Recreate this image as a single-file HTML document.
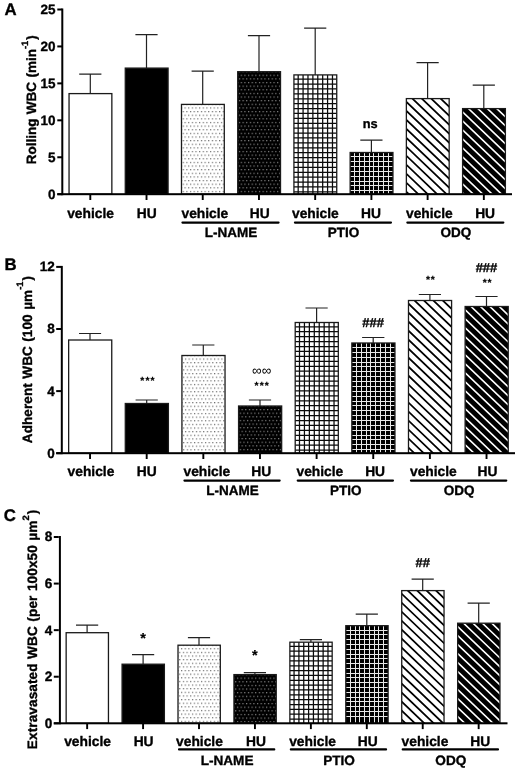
<!DOCTYPE html>
<html><head><meta charset="utf-8"><title>figure</title>
<style>
html,body{margin:0;padding:0;background:#fff;}
body{width:520px;height:768px;overflow:hidden;}
svg{display:block;will-change:transform;-webkit-font-smoothing:antialiased;text-rendering:geometricPrecision;font-family:"Liberation Sans",sans-serif;font-weight:bold;fill:#000;}
text{stroke:#000;stroke-width:0.35px;stroke-linejoin:round;}
</style></head><body>
<svg width="520" height="768" viewBox="0 0 520 768">
<defs>
<pattern id="pA2" x="180.84" y="103.75" width="3.64" height="7.26" patternUnits="userSpaceOnUse"><rect width="3.64" height="7.26" fill="#fff"/><rect x="0" y="3.63" width="1.2" height="1.2" fill="#6e6e6e"/><rect x="1.82" y="0" width="1.2" height="1.2" fill="#6e6e6e"/></pattern>
<pattern id="pA3" x="237.06" y="71.05" width="3.64" height="7.26" patternUnits="userSpaceOnUse"><rect width="3.64" height="7.26" fill="#000"/><rect x="0" y="3.63" width="1.2" height="1.2" fill="#858585"/><rect x="1.82" y="0" width="1.2" height="1.2" fill="#858585"/></pattern>
<clipPath id="cA6"><rect x="406.37" y="98.6" width="42.80" height="95.6"/></clipPath>
<clipPath id="cA7"><rect x="462.59" y="108.6" width="42.80" height="85.6"/></clipPath>
<pattern id="pB2" x="181.28" y="354.85" width="3.64" height="7.26" patternUnits="userSpaceOnUse"><rect width="3.64" height="7.26" fill="#fff"/><rect x="0" y="3.63" width="1.2" height="1.2" fill="#6e6e6e"/><rect x="1.82" y="0" width="1.2" height="1.2" fill="#6e6e6e"/></pattern>
<pattern id="pB3" x="237.92" y="405.35" width="3.64" height="7.26" patternUnits="userSpaceOnUse"><rect width="3.64" height="7.26" fill="#000"/><rect x="0" y="3.63" width="1.2" height="1.2" fill="#858585"/><rect x="1.82" y="0" width="1.2" height="1.2" fill="#858585"/></pattern>
<clipPath id="cB6"><rect x="408.49" y="300.5" width="43.10" height="152.7"/></clipPath>
<clipPath id="cB7"><rect x="465.13" y="306.5" width="43.10" height="146.7"/></clipPath>
<pattern id="pC2" x="177.36" y="644.55" width="3.64" height="7.26" patternUnits="userSpaceOnUse"><rect width="3.64" height="7.26" fill="#fff"/><rect x="0" y="3.63" width="1.2" height="1.2" fill="#6e6e6e"/><rect x="1.82" y="0" width="1.2" height="1.2" fill="#6e6e6e"/></pattern>
<pattern id="pC3" x="233.29" y="673.95" width="3.64" height="7.26" patternUnits="userSpaceOnUse"><rect width="3.64" height="7.26" fill="#000"/><rect x="0" y="3.63" width="1.2" height="1.2" fill="#858585"/><rect x="1.82" y="0" width="1.2" height="1.2" fill="#858585"/></pattern>
<clipPath id="cC6"><rect x="401.73" y="590.6" width="42.30" height="132.7"/></clipPath>
<clipPath id="cC7"><rect x="457.66" y="623.2" width="42.30" height="100.1"/></clipPath>
</defs>
<rect width="520" height="768" fill="#fff"/>
<!-- panel A -->
<text x="4.6" y="15" font-size="16.8">A</text>
<text transform="translate(36.2,99.8) rotate(-90)" text-anchor="middle" font-size="13.5" letter-spacing="0" word-spacing="0.6">Rolling WBC (min<tspan dy="-8" font-size="9.3">-1</tspan><tspan dy="8" dx="1">)</tspan></text>
<path d="M79.2 74.1H101.4M90.3 74.1V93.6" stroke="#222" stroke-width="1.2" fill="none"/>
<rect x="69.05" y="93.6" width="42.80" height="100.6" fill="#fff" stroke="#1a1a1a" stroke-width="1.3"/>
<path d="M135.4 34.6H157.6M146.5 34.6V68.1" stroke="#222" stroke-width="1.2" fill="none"/>
<rect x="125.27" y="68.1" width="42.80" height="126.1" fill="#000" stroke="#1a1a1a" stroke-width="1.3"/>
<path d="M191.6 71.1H213.8M202.7 71.1V104.4" stroke="#222" stroke-width="1.2" fill="none"/>
<rect x="181.49" y="104.4" width="42.80" height="89.8" fill="url(#pA2)" stroke="#1a1a1a" stroke-width="1.3"/>
<path d="M247.9 35.6H270.1M259.0 35.6V71.7" stroke="#222" stroke-width="1.2" fill="none"/>
<rect x="237.71" y="71.7" width="42.80" height="122.5" fill="url(#pA3)" stroke="#1a1a1a" stroke-width="1.3"/>
<path d="M304.1 28.1H326.3M315.2 28.1V74.9" stroke="#222" stroke-width="1.2" fill="none"/>
<rect x="293.93" y="74.9" width="42.80" height="119.3" fill="#fff"/>
<path d="M298.18 74.9V194.2M303.08 74.9V194.2M307.98 74.9V194.2M312.88 74.9V194.2M317.78 74.9V194.2M322.68 74.9V194.2M327.58 74.9V194.2M332.48 74.9V194.2M293.9 79.15H336.7M293.9 84.05H336.7M293.9 88.95H336.7M293.9 93.85H336.7M293.9 98.75H336.7M293.9 103.65H336.7M293.9 108.55H336.7M293.9 113.45H336.7M293.9 118.35H336.7M293.9 123.25H336.7M293.9 128.15H336.7M293.9 133.05H336.7M293.9 137.95H336.7M293.9 142.85H336.7M293.9 147.75H336.7M293.9 152.65H336.7M293.9 157.55H336.7M293.9 162.45H336.7M293.9 167.35H336.7M293.9 172.25H336.7M293.9 177.15H336.7M293.9 182.05H336.7M293.9 186.95H336.7M293.9 191.85H336.7" stroke="#0a0a0a" stroke-width="1.25" fill="none"/>
<rect x="293.93" y="74.9" width="42.80" height="119.3" fill="none" stroke="#1a1a1a" stroke-width="1.3"/>
<path d="M360.3 140.1H382.5M371.4 140.1V152.5" stroke="#222" stroke-width="1.2" fill="none"/>
<rect x="350.15" y="152.5" width="42.80" height="41.7" fill="#000"/>
<path d="M354.5 152.5V194.2M359.5 152.5V194.2M364.5 152.5V194.2M369.5 152.5V194.2M373.5 152.5V194.2M378.5 152.5V194.2M383.5 152.5V194.2M388.5 152.5V194.2M350.1 156.5H392.9M350.1 161.5H392.9M350.1 166.5H392.9M350.1 171.5H392.9M350.1 176.5H392.9M350.1 181.5H392.9M350.1 185.5H392.9M350.1 190.5H392.9" stroke="#e8e8e8" stroke-width="1" fill="none" shape-rendering="crispEdges"/>
<rect x="350.15" y="152.5" width="42.80" height="41.7" fill="none" stroke="#1a1a1a" stroke-width="1.3"/>
<path d="M416.5 62.6H438.7M427.6 62.6V98.6" stroke="#222" stroke-width="1.2" fill="none"/>
<rect x="406.37" y="98.6" width="42.80" height="95.6" fill="#fff"/>
<path d="M169.43 -232.50L747.80 320.21M164.94 -227.80L743.31 324.91M160.45 -223.10L738.82 329.61M155.96 -218.40L734.33 334.30M151.47 -213.70L729.84 339.00M146.97 -209.00L725.35 343.70M142.48 -204.30L720.86 348.40M137.99 -199.60L716.37 353.10M133.50 -194.90L711.88 357.80M129.01 -190.21L707.39 362.50M124.52 -185.51L702.89 367.20M120.03 -180.81L698.40 371.90M115.54 -176.11L693.91 376.60M111.05 -171.41L689.42 381.30M106.56 -166.71L684.93 386.00M102.07 -162.01L680.44 390.70M97.58 -157.31L675.95 395.40M93.09 -152.61L671.46 400.09M88.60 -147.91L666.97 404.79M84.10 -143.21L662.48 409.49M79.61 -138.51L657.99 414.19M75.12 -133.81L653.50 418.89M70.63 -129.11L649.01 423.59M66.14 -124.42L644.52 428.29M61.65 -119.72L640.02 432.99M57.16 -115.02L635.53 437.69M52.67 -110.32L631.04 442.39M48.18 -105.62L626.55 447.09M43.69 -100.92L622.06 451.79M39.20 -96.22L617.57 456.49M34.71 -91.52L613.08 461.19M30.22 -86.82L608.59 465.88M25.72 -82.12L604.10 470.58M21.23 -77.42L599.61 475.28M16.74 -72.72L595.12 479.98M12.25 -68.02L590.63 484.68M7.76 -63.32L586.14 489.38M3.27 -58.63L581.64 494.08M-1.22 -53.93L577.15 498.78M-5.71 -49.23L572.66 503.48M-10.20 -44.53L568.17 508.18M-14.69 -39.83L563.68 512.88M-19.18 -35.13L559.19 517.58M-23.67 -30.43L554.70 522.28M-28.16 -25.73L550.21 526.98M-32.65 -21.03L545.72 531.67M-37.15 -16.33L541.23 536.37M-41.64 -11.63L536.74 541.07M-46.13 -6.93L532.25 545.77M-50.62 -2.23L527.76 550.47M-55.11 2.47L523.27 555.17M-59.60 7.16L518.77 559.87M-64.09 11.86L514.28 564.57M-68.58 16.56L509.79 569.27M-73.07 21.26L505.30 573.97M-77.56 25.96L500.81 578.67M-82.05 30.66L496.32 583.37M-86.54 35.36L491.83 588.07M-91.03 40.06L487.34 592.77M-95.52 44.76L482.85 597.46M-100.02 49.46L478.36 602.16M-104.51 54.16L473.87 606.86M-109.00 58.86L469.38 611.56M-113.49 63.56L464.89 616.26M-117.98 68.26L460.40 620.96M-122.47 72.95L455.90 625.66M-126.96 77.65L451.41 630.36M-131.45 82.35L446.92 635.06M-135.94 87.05L442.43 639.76M-140.43 91.75L437.94 644.46M-144.92 96.45L433.45 649.16M-149.41 101.15L428.96 653.86" stroke="#000" stroke-width="1.75" fill="none" clip-path="url(#cA6)"/>
<rect x="406.37" y="98.6" width="42.80" height="95.6" fill="none" stroke="#1a1a1a" stroke-width="1.3"/>
<path d="M472.7 85.2H494.9M483.8 85.2V108.6" stroke="#222" stroke-width="1.2" fill="none"/>
<rect x="462.59" y="108.6" width="42.80" height="85.6" fill="#000"/>
<path d="M225.60 -222.44L803.97 330.26M221.11 -217.75L799.48 334.96M216.62 -213.05L794.99 339.66M212.12 -208.35L790.50 344.36M207.63 -203.65L786.01 349.06M203.14 -198.95L781.52 353.76M198.65 -194.25L777.03 358.46M194.16 -189.55L772.54 363.16M189.67 -184.85L768.04 367.86M185.18 -180.15L763.55 372.55M180.69 -175.45L759.06 377.25M176.20 -170.75L754.57 381.95M171.71 -166.05L750.08 386.65M167.22 -161.35L745.59 391.35M162.73 -156.65L741.10 396.05M158.24 -151.96L736.61 400.75M153.74 -147.26L732.12 405.45M149.25 -142.56L727.63 410.15M144.76 -137.86L723.14 414.85M140.27 -133.16L718.65 419.55M135.78 -128.46L714.16 424.25M131.29 -123.76L709.66 428.95M126.80 -119.06L705.17 433.65M122.31 -114.36L700.68 438.34M117.82 -109.66L696.19 443.04M113.33 -104.96L691.70 447.74M108.84 -100.26L687.21 452.44M104.35 -95.56L682.72 457.14M99.86 -90.86L678.23 461.84M95.37 -86.17L673.74 466.54M90.87 -81.47L669.25 471.24M86.38 -76.77L664.76 475.94M81.89 -72.07L660.27 480.64M77.40 -67.37L655.78 485.34M72.91 -62.67L651.29 490.04M68.42 -57.97L646.79 494.74M63.93 -53.27L642.30 499.44M59.44 -48.57L637.81 504.13M54.95 -43.87L633.32 508.83M50.46 -39.17L628.83 513.53M45.97 -34.47L624.34 518.23M41.48 -29.77L619.85 522.93M36.99 -25.07L615.36 527.63M32.49 -20.38L610.87 532.33M28.00 -15.68L606.38 537.03M23.51 -10.98L601.89 541.73M19.02 -6.28L597.40 546.43M14.53 -1.58L592.91 551.13M10.04 3.12L588.42 555.83M5.55 7.82L583.92 560.53M1.06 12.52L579.43 565.23M-3.43 17.22L574.94 569.92M-7.92 21.92L570.45 574.62M-12.41 26.62L565.96 579.32M-16.90 31.32L561.47 584.02M-21.39 36.02L556.98 588.72M-25.88 40.72L552.49 593.42M-30.38 45.41L548.00 598.12M-34.87 50.11L543.51 602.82M-39.36 54.81L539.02 607.52M-43.85 59.51L534.53 612.22M-48.34 64.21L530.04 616.92M-52.83 68.91L525.54 621.62M-57.32 73.61L521.05 626.32M-61.81 78.31L516.56 631.02M-66.30 83.01L512.07 635.71M-70.79 87.71L507.58 640.41M-75.28 92.41L503.09 645.11M-79.77 97.11L498.60 649.81M-84.26 101.81L494.11 654.51M-88.75 106.51L489.62 659.21M-93.25 111.20L485.13 663.91" stroke="#fff" stroke-width="1.6" fill="none" clip-path="url(#cA7)"/>
<rect x="462.59" y="108.6" width="42.80" height="85.6" fill="none" stroke="#1a1a1a" stroke-width="1.3"/>
<rect x="61.3" y="8.5" width="2" height="186.7" />
<rect x="57.3" y="193.2" width="454.7" height="2" />
<rect x="57.3" y="193.20" width="5" height="2"/>
<text x="55.5" y="198.60" text-anchor="end" font-size="13.5">0</text>
<rect x="57.3" y="156.26" width="5" height="2"/>
<text x="55.5" y="161.66" text-anchor="end" font-size="13.5">5</text>
<rect x="57.3" y="119.32" width="5" height="2"/>
<text x="55.5" y="124.72" text-anchor="end" font-size="13.5">10</text>
<rect x="57.3" y="82.38" width="5" height="2"/>
<text x="55.5" y="87.78" text-anchor="end" font-size="13.5">15</text>
<rect x="57.3" y="45.44" width="5" height="2"/>
<text x="55.5" y="50.84" text-anchor="end" font-size="13.5">20</text>
<rect x="57.3" y="8.50" width="5" height="2"/>
<text x="55.5" y="13.90" text-anchor="end" font-size="13.5">25</text>
<rect x="89.35" y="194.2" width="1.9" height="5.8"/>
<text x="90.6" y="217.5" text-anchor="middle" font-size="13.8">vehicle</text>
<rect x="145.57" y="194.2" width="1.9" height="5.8"/>
<text x="146.8" y="217.5" text-anchor="middle" font-size="13.8">HU</text>
<rect x="201.79" y="194.2" width="1.9" height="5.8"/>
<text x="204.9" y="217.5" text-anchor="middle" font-size="13.8">vehicle</text>
<rect x="258.01" y="194.2" width="1.9" height="5.8"/>
<text x="259.8" y="217.5" text-anchor="middle" font-size="13.8">HU</text>
<rect x="314.23" y="194.2" width="1.9" height="5.8"/>
<text x="315.4" y="217.5" text-anchor="middle" font-size="13.8">vehicle</text>
<rect x="370.45" y="194.2" width="1.9" height="5.8"/>
<text x="371.0" y="217.5" text-anchor="middle" font-size="13.8">HU</text>
<rect x="426.67" y="194.2" width="1.9" height="5.8"/>
<text x="429.4" y="217.5" text-anchor="middle" font-size="13.8">vehicle</text>
<rect x="482.89" y="194.2" width="1.9" height="5.8"/>
<text x="485.1" y="217.5" text-anchor="middle" font-size="13.8">HU</text>
<line x1="182.4" y1="222.6" x2="278.6" y2="222.6" stroke="#000" stroke-width="2.1" stroke-linecap="round"/>
<text x="231.0" y="237.3" text-anchor="middle" font-size="13.5">L-NAME</text>
<line x1="294.9" y1="222.6" x2="391.0" y2="222.6" stroke="#000" stroke-width="2.1" stroke-linecap="round"/>
<text x="343.4" y="237.3" text-anchor="middle" font-size="13.5">PTIO</text>
<line x1="407.3" y1="222.6" x2="503.4" y2="222.6" stroke="#000" stroke-width="2.1" stroke-linecap="round"/>
<text x="455.9" y="237.3" text-anchor="middle" font-size="13.5">ODQ</text>
<text x="370.2" y="127.8" text-anchor="middle" font-size="12.8" font-weight="bold" letter-spacing="0" style="stroke-width:0.35px">ns</text>
<!-- panel B -->
<text x="4.6" y="269.7" font-size="16.8">B</text>
<text transform="translate(32.4,359.5) rotate(-90)" text-anchor="middle" font-size="13.5" letter-spacing="0.1" word-spacing="0.6">Adherent WBC (100 µm<tspan dy="-9.2" font-size="9.3">-1</tspan><tspan dy="9.2" dx="1">)</tspan></text>
<path d="M79.0 333.5H101.1M90.0 333.5V340" stroke="#222" stroke-width="1.2" fill="none"/>
<rect x="68.65" y="340" width="43.10" height="113.2" fill="#fff" stroke="#1a1a1a" stroke-width="1.3"/>
<path d="M135.6 400H157.8M146.7 400V403.5" stroke="#222" stroke-width="1.2" fill="none"/>
<rect x="125.29" y="403.5" width="43.10" height="49.7" fill="#000" stroke="#1a1a1a" stroke-width="1.3"/>
<path d="M192.2 345H214.4M203.3 345V355.5" stroke="#222" stroke-width="1.2" fill="none"/>
<rect x="181.93" y="355.5" width="43.10" height="97.7" fill="url(#pB2)" stroke="#1a1a1a" stroke-width="1.3"/>
<path d="M248.9 400H271.1M260.0 400V406" stroke="#222" stroke-width="1.2" fill="none"/>
<rect x="238.57" y="406" width="43.10" height="47.2" fill="url(#pB3)" stroke="#1a1a1a" stroke-width="1.3"/>
<path d="M305.5 308H327.7M316.6 308V322.5" stroke="#222" stroke-width="1.2" fill="none"/>
<rect x="295.21" y="322.5" width="43.10" height="130.7" fill="#fff"/>
<path d="M299.49 322.5V453.2M304.43 322.5V453.2M309.36 322.5V453.2M314.29 322.5V453.2M319.23 322.5V453.2M324.16 322.5V453.2M329.09 322.5V453.2M334.03 322.5V453.2M295.2 326.78H338.3M295.2 331.72H338.3M295.2 336.65H338.3M295.2 341.58H338.3M295.2 346.52H338.3M295.2 351.45H338.3M295.2 356.38H338.3M295.2 361.32H338.3M295.2 366.25H338.3M295.2 371.18H338.3M295.2 376.12H338.3M295.2 381.05H338.3M295.2 385.98H338.3M295.2 390.92H338.3M295.2 395.85H338.3M295.2 400.78H338.3M295.2 405.72H338.3M295.2 410.65H338.3M295.2 415.58H338.3M295.2 420.52H338.3M295.2 425.45H338.3M295.2 430.38H338.3M295.2 435.32H338.3M295.2 440.25H338.3M295.2 445.18H338.3M295.2 450.12H338.3" stroke="#0a0a0a" stroke-width="1.25" fill="none"/>
<rect x="295.21" y="322.5" width="43.10" height="130.7" fill="none" stroke="#1a1a1a" stroke-width="1.3"/>
<path d="M362.1 337.5H384.4M373.2 337.5V343" stroke="#222" stroke-width="1.2" fill="none"/>
<rect x="351.85" y="343" width="43.10" height="110.2" fill="#000"/>
<path d="M356.5 343V453.2M361.5 343V453.2M366.5 343V453.2M370.5 343V453.2M375.5 343V453.2M380.5 343V453.2M385.5 343V453.2M390.5 343V453.2M351.8 347.5H394.9M351.8 352.5H394.9M351.8 357.5H394.9M351.8 362.5H394.9M351.8 366.5H394.9M351.8 371.5H394.9M351.8 376.5H394.9M351.8 381.5H394.9M351.8 386.5H394.9M351.8 391.5H394.9M351.8 396.5H394.9M351.8 401.5H394.9M351.8 405.5H394.9M351.8 410.5H394.9M351.8 415.5H394.9M351.8 420.5H394.9M351.8 425.5H394.9M351.8 430.5H394.9M351.8 435.5H394.9M351.8 439.5H394.9M351.8 444.5H394.9M351.8 449.5H394.9" stroke="#e8e8e8" stroke-width="1" fill="none" shape-rendering="crispEdges"/>
<rect x="351.85" y="343" width="43.10" height="110.2" fill="none" stroke="#1a1a1a" stroke-width="1.3"/>
<path d="M418.8 294.5H441.0M429.9 294.5V300.5" stroke="#222" stroke-width="1.2" fill="none"/>
<rect x="408.49" y="300.5" width="43.10" height="152.7" fill="#fff"/>
<path d="M171.55 -30.60L749.92 522.11M167.06 -25.90L745.43 526.81M162.57 -21.20L740.94 531.51M158.08 -16.50L736.45 536.20M153.59 -11.80L731.96 540.90M149.09 -7.10L727.47 545.60M144.60 -2.40L722.98 550.30M140.11 2.30L718.49 555.00M135.62 7.00L714.00 559.70M131.13 11.69L709.51 564.40M126.64 16.39L705.01 569.10M122.15 21.09L700.52 573.80M117.66 25.79L696.03 578.50M113.17 30.49L691.54 583.20M108.68 35.19L687.05 587.90M104.19 39.89L682.56 592.60M99.70 44.59L678.07 597.30M95.21 49.29L673.58 601.99M90.72 53.99L669.09 606.69M86.22 58.69L664.60 611.39M81.73 63.39L660.11 616.09M77.24 68.09L655.62 620.79M72.75 72.79L651.13 625.49M68.26 77.48L646.64 630.19M63.77 82.18L642.14 634.89M59.28 86.88L637.65 639.59M54.79 91.58L633.16 644.29M50.30 96.28L628.67 648.99M45.81 100.98L624.18 653.69M41.32 105.68L619.69 658.39M36.83 110.38L615.20 663.09M32.34 115.08L610.71 667.78M27.84 119.78L606.22 672.48M23.35 124.48L601.73 677.18M18.86 129.18L597.24 681.88M14.37 133.88L592.75 686.58M9.88 138.58L588.26 691.28M5.39 143.27L583.76 695.98M0.90 147.97L579.27 700.68M-3.59 152.67L574.78 705.38M-8.08 157.37L570.29 710.08M-12.57 162.07L565.80 714.78M-17.06 166.77L561.31 719.48M-21.55 171.47L556.82 724.18M-26.04 176.17L552.33 728.88M-30.53 180.87L547.84 733.57M-35.03 185.57L543.35 738.27M-39.52 190.27L538.86 742.97M-44.01 194.97L534.37 747.67M-48.50 199.67L529.88 752.37M-52.99 204.37L525.39 757.07M-57.48 209.06L520.89 761.77M-61.97 213.76L516.40 766.47M-66.46 218.46L511.91 771.17M-70.95 223.16L507.42 775.87M-75.44 227.86L502.93 780.57M-79.93 232.56L498.44 785.27M-84.42 237.26L493.95 789.97M-88.91 241.96L489.46 794.67M-93.40 246.66L484.97 799.36M-97.90 251.36L480.48 804.06M-102.39 256.06L475.99 808.76M-106.88 260.76L471.50 813.46M-111.37 265.46L467.01 818.16M-115.86 270.16L462.52 822.86M-120.35 274.85L458.02 827.56M-124.84 279.55L453.53 832.26M-129.33 284.25L449.04 836.96M-133.82 288.95L444.55 841.66M-138.31 293.65L440.06 846.36M-142.80 298.35L435.57 851.06M-147.29 303.05L431.08 855.76" stroke="#000" stroke-width="1.75" fill="none" clip-path="url(#cB6)"/>
<rect x="408.49" y="300.5" width="43.10" height="152.7" fill="none" stroke="#1a1a1a" stroke-width="1.3"/>
<path d="M475.4 296.5H497.6M486.5 296.5V306.5" stroke="#222" stroke-width="1.2" fill="none"/>
<rect x="465.13" y="306.5" width="43.10" height="146.7" fill="#000"/>
<path d="M228.14 -24.54L806.51 528.16M223.65 -19.85L802.02 532.86M219.16 -15.15L797.53 537.56M214.66 -10.45L793.04 542.26M210.17 -5.75L788.55 546.96M205.68 -1.05L784.06 551.66M201.19 3.65L779.57 556.36M196.70 8.35L775.08 561.06M192.21 13.05L770.58 565.76M187.72 17.75L766.09 570.45M183.23 22.45L761.60 575.15M178.74 27.15L757.11 579.85M174.25 31.85L752.62 584.55M169.76 36.55L748.13 589.25M165.27 41.25L743.64 593.95M160.78 45.94L739.15 598.65M156.28 50.64L734.66 603.35M151.79 55.34L730.17 608.05M147.30 60.04L725.68 612.75M142.81 64.74L721.19 617.45M138.32 69.44L716.70 622.15M133.83 74.14L712.20 626.85M129.34 78.84L707.71 631.55M124.85 83.54L703.22 636.24M120.36 88.24L698.73 640.94M115.87 92.94L694.24 645.64M111.38 97.64L689.75 650.34M106.89 102.34L685.26 655.04M102.40 107.04L680.77 659.74M97.91 111.73L676.28 664.44M93.41 116.43L671.79 669.14M88.92 121.13L667.30 673.84M84.43 125.83L662.81 678.54M79.94 130.53L658.32 683.24M75.45 135.23L653.83 687.94M70.96 139.93L649.33 692.64M66.47 144.63L644.84 697.34M61.98 149.33L640.35 702.03M57.49 154.03L635.86 706.73M53.00 158.73L631.37 711.43M48.51 163.43L626.88 716.13M44.02 168.13L622.39 720.83M39.53 172.83L617.90 725.53M35.03 177.52L613.41 730.23M30.54 182.22L608.92 734.93M26.05 186.92L604.43 739.63M21.56 191.62L599.94 744.33M17.07 196.32L595.45 749.03M12.58 201.02L590.96 753.73M8.09 205.72L586.46 758.43M3.60 210.42L581.97 763.13M-0.89 215.12L577.48 767.82M-5.38 219.82L572.99 772.52M-9.87 224.52L568.50 777.22M-14.36 229.22L564.01 781.92M-18.85 233.92L559.52 786.62M-23.34 238.62L555.03 791.32M-27.84 243.31L550.54 796.02M-32.33 248.01L546.05 800.72M-36.82 252.71L541.56 805.42M-41.31 257.41L537.07 810.12M-45.80 262.11L532.58 814.82M-50.29 266.81L528.08 819.52M-54.78 271.51L523.59 824.22M-59.27 276.21L519.10 828.92M-63.76 280.91L514.61 833.61M-68.25 285.61L510.12 838.31M-72.74 290.31L505.63 843.01M-77.23 295.01L501.14 847.71M-81.72 299.71L496.65 852.41M-86.21 304.41L492.16 857.11M-90.71 309.10L487.67 861.81" stroke="#fff" stroke-width="1.6" fill="none" clip-path="url(#cB7)"/>
<rect x="465.13" y="306.5" width="43.10" height="146.7" fill="none" stroke="#1a1a1a" stroke-width="1.3"/>
<rect x="60.8" y="265.9" width="2" height="188.3" />
<rect x="56.2" y="452.2" width="458.8" height="2" />
<rect x="56.2" y="452.20" width="5" height="2"/>
<text x="54.7" y="457.60" text-anchor="end" font-size="13.5">0</text>
<rect x="56.2" y="390.10" width="5" height="2"/>
<text x="54.7" y="395.50" text-anchor="end" font-size="13.5">4</text>
<rect x="56.2" y="328.00" width="5" height="2"/>
<text x="54.7" y="333.40" text-anchor="end" font-size="13.5">8</text>
<rect x="56.2" y="265.90" width="5" height="2"/>
<text x="54.7" y="271.30" text-anchor="end" font-size="13.5">12</text>
<rect x="89.10" y="453.2" width="1.9" height="5.8"/>
<text x="91.0" y="476.3" text-anchor="middle" font-size="13.8">vehicle</text>
<rect x="145.74" y="453.2" width="1.9" height="5.8"/>
<text x="146.7" y="476.3" text-anchor="middle" font-size="13.8">HU</text>
<rect x="202.38" y="453.2" width="1.9" height="5.8"/>
<text x="206.9" y="476.3" text-anchor="middle" font-size="13.8">vehicle</text>
<rect x="259.02" y="453.2" width="1.9" height="5.8"/>
<text x="261.2" y="476.3" text-anchor="middle" font-size="13.8">HU</text>
<rect x="315.66" y="453.2" width="1.9" height="5.8"/>
<text x="319.9" y="476.3" text-anchor="middle" font-size="13.8">vehicle</text>
<rect x="372.30" y="453.2" width="1.9" height="5.8"/>
<text x="375.1" y="476.3" text-anchor="middle" font-size="13.8">HU</text>
<rect x="428.94" y="453.2" width="1.9" height="5.8"/>
<text x="433.4" y="476.3" text-anchor="middle" font-size="13.8">vehicle</text>
<rect x="485.58" y="453.2" width="1.9" height="5.8"/>
<text x="487.5" y="476.3" text-anchor="middle" font-size="13.8">HU</text>
<line x1="184.4" y1="480.6" x2="279.7" y2="480.6" stroke="#000" stroke-width="2.1" stroke-linecap="round"/>
<text x="232.5" y="495.1" text-anchor="middle" font-size="13.5">L-NAME</text>
<line x1="297.7" y1="480.6" x2="393.0" y2="480.6" stroke="#000" stroke-width="2.1" stroke-linecap="round"/>
<text x="345.8" y="495.1" text-anchor="middle" font-size="13.5">PTIO</text>
<line x1="410.9" y1="480.6" x2="506.3" y2="480.6" stroke="#000" stroke-width="2.1" stroke-linecap="round"/>
<text x="459.1" y="495.1" text-anchor="middle" font-size="13.5">ODQ</text>
<text x="148.0" y="384.2" text-anchor="middle" font-size="10.3" font-weight="bold" letter-spacing="1.1" style="stroke-width:0.2px">***</text>
<text x="261.7" y="375.3" text-anchor="middle" font-size="13.5" font-weight="normal" letter-spacing="0" style="stroke-width:0px">∞∞</text>
<text x="262.2" y="389.3" text-anchor="middle" font-size="10.3" font-weight="bold" letter-spacing="1.1" style="stroke-width:0.2px">***</text>
<text x="373.2" y="327" text-anchor="middle" font-size="13" font-weight="bold" letter-spacing="0" style="stroke-width:0.35px">###</text>
<text x="430.7" y="282.8" text-anchor="middle" font-size="10.3" font-weight="bold" letter-spacing="0.7" style="stroke-width:0.2px">**</text>
<text x="486.5" y="272" text-anchor="middle" font-size="13" font-weight="bold" letter-spacing="0" style="stroke-width:0.35px">###</text>
<text x="487.4" y="285.5" text-anchor="middle" font-size="10.3" font-weight="bold" letter-spacing="0.7" style="stroke-width:0.2px">**</text>
<!-- panel C -->
<text x="3.7" y="521.4" font-size="16.8">C</text>
<text transform="translate(37.4,629.4) rotate(-90)" text-anchor="middle" font-size="13.6" letter-spacing="0.1" word-spacing="0.6">Extravasated WBC (per 100x50 µm<tspan dy="-8" font-size="9.3">2</tspan><tspan dy="8" dx="1">)</tspan></text>
<path d="M76.0 625.2H98.2M87.1 625.2V632.7" stroke="#222" stroke-width="1.2" fill="none"/>
<rect x="66.15" y="632.7" width="42.30" height="90.6" fill="#fff" stroke="#1a1a1a" stroke-width="1.3"/>
<path d="M132.0 654.7H154.2M143.1 654.7V664.2" stroke="#222" stroke-width="1.2" fill="none"/>
<rect x="122.08" y="664.2" width="42.30" height="59.1" fill="#000" stroke="#1a1a1a" stroke-width="1.3"/>
<path d="M187.9 637.7H210.1M199.0 637.7V645.2" stroke="#222" stroke-width="1.2" fill="none"/>
<rect x="178.01" y="645.2" width="42.30" height="78.1" fill="url(#pC2)" stroke="#1a1a1a" stroke-width="1.3"/>
<path d="M243.8 672.7H266.0M254.9 672.7V674.6" stroke="#222" stroke-width="1.2" fill="none"/>
<rect x="233.94" y="674.6" width="42.30" height="48.7" fill="url(#pC3)" stroke="#1a1a1a" stroke-width="1.3"/>
<path d="M299.8 639.7H322.0M310.9 639.7V642.2" stroke="#222" stroke-width="1.2" fill="none"/>
<rect x="289.87" y="642.2" width="42.30" height="81.1" fill="#fff"/>
<path d="M294.06 642.2V723.3M298.91 642.2V723.3M303.75 642.2V723.3M308.60 642.2V723.3M313.44 642.2V723.3M318.29 642.2V723.3M323.13 642.2V723.3M327.98 642.2V723.3M289.9 646.39H332.2M289.9 651.24H332.2M289.9 656.08H332.2M289.9 660.93H332.2M289.9 665.77H332.2M289.9 670.62H332.2M289.9 675.46H332.2M289.9 680.31H332.2M289.9 685.15H332.2M289.9 689.99H332.2M289.9 694.84H332.2M289.9 699.68H332.2M289.9 704.53H332.2M289.9 709.37H332.2M289.9 714.22H332.2M289.9 719.06H332.2" stroke="#0a0a0a" stroke-width="1.25" fill="none"/>
<rect x="289.87" y="642.2" width="42.30" height="81.1" fill="none" stroke="#1a1a1a" stroke-width="1.3"/>
<path d="M355.7 614.2H377.9M366.8 614.2V625.7" stroke="#222" stroke-width="1.2" fill="none"/>
<rect x="345.80" y="625.7" width="42.30" height="97.6" fill="#000"/>
<path d="M350.5 625.7V723.3M355.5 625.7V723.3M359.5 625.7V723.3M364.5 625.7V723.3M369.5 625.7V723.3M374.5 625.7V723.3M378.5 625.7V723.3M383.5 625.7V723.3M345.8 630.5H388.1M345.8 634.5H388.1M345.8 639.5H388.1M345.8 644.5H388.1M345.8 649.5H388.1M345.8 654.5H388.1M345.8 658.5H388.1M345.8 663.5H388.1M345.8 668.5H388.1M345.8 673.5H388.1M345.8 677.5H388.1M345.8 682.5H388.1M345.8 687.5H388.1M345.8 692.5H388.1M345.8 697.5H388.1M345.8 701.5H388.1M345.8 706.5H388.1M345.8 711.5H388.1M345.8 716.5H388.1" stroke="#e8e8e8" stroke-width="1" fill="none" shape-rendering="crispEdges"/>
<rect x="345.80" y="625.7" width="42.30" height="97.6" fill="none" stroke="#1a1a1a" stroke-width="1.3"/>
<path d="M411.6 579.2H433.8M422.7 579.2V590.6" stroke="#222" stroke-width="1.2" fill="none"/>
<rect x="401.73" y="590.6" width="42.30" height="132.7" fill="#fff"/>
<path d="M164.79 259.50L743.16 812.21M160.30 264.20L738.67 816.91M155.81 268.90L734.18 821.61M151.32 273.60L729.69 826.30M146.83 278.30L725.20 831.00M142.33 283.00L720.71 835.70M137.84 287.70L716.22 840.40M133.35 292.40L711.73 845.10M128.86 297.10L707.24 849.80M124.37 301.79L702.75 854.50M119.88 306.49L698.25 859.20M115.39 311.19L693.76 863.90M110.90 315.89L689.27 868.60M106.41 320.59L684.78 873.30M101.92 325.29L680.29 878.00M97.43 329.99L675.80 882.70M92.94 334.69L671.31 887.40M88.45 339.39L666.82 892.09M83.96 344.09L662.33 896.79M79.46 348.79L657.84 901.49M74.97 353.49L653.35 906.19M70.48 358.19L648.86 910.89M65.99 362.89L644.37 915.59M61.50 367.58L639.88 920.29M57.01 372.28L635.38 924.99M52.52 376.98L630.89 929.69M48.03 381.68L626.40 934.39M43.54 386.38L621.91 939.09M39.05 391.08L617.42 943.79M34.56 395.78L612.93 948.49M30.07 400.48L608.44 953.19M25.58 405.18L603.95 957.88M21.08 409.88L599.46 962.58M16.59 414.58L594.97 967.28M12.10 419.28L590.48 971.98M7.61 423.98L585.99 976.68M3.12 428.68L581.50 981.38M-1.37 433.37L577.00 986.08M-5.86 438.07L572.51 990.78M-10.35 442.77L568.02 995.48M-14.84 447.47L563.53 1000.18M-19.33 452.17L559.04 1004.88M-23.82 456.87L554.55 1009.58M-28.31 461.57L550.06 1014.28M-32.80 466.27L545.57 1018.98M-37.29 470.97L541.08 1023.67M-41.79 475.67L536.59 1028.37M-46.28 480.37L532.10 1033.07M-50.77 485.07L527.61 1037.77M-55.26 489.77L523.12 1042.47M-59.75 494.47L518.63 1047.17M-64.24 499.16L514.13 1051.87M-68.73 503.86L509.64 1056.57M-73.22 508.56L505.15 1061.27M-77.71 513.26L500.66 1065.97M-82.20 517.96L496.17 1070.67M-86.69 522.66L491.68 1075.37M-91.18 527.36L487.19 1080.07M-95.67 532.06L482.70 1084.77M-100.16 536.76L478.21 1089.46M-104.66 541.46L473.72 1094.16M-109.15 546.16L469.23 1098.86M-113.64 550.86L464.74 1103.56M-118.13 555.56L460.25 1108.26M-122.62 560.26L455.76 1112.96M-127.11 564.95L451.26 1117.66M-131.60 569.65L446.77 1122.36M-136.09 574.35L442.28 1127.06M-140.58 579.05L437.79 1131.76M-145.07 583.75L433.30 1136.46M-149.56 588.45L428.81 1141.16M-154.05 593.15L424.32 1145.86" stroke="#000" stroke-width="1.75" fill="none" clip-path="url(#cC6)"/>
<rect x="401.73" y="590.6" width="42.30" height="132.7" fill="none" stroke="#1a1a1a" stroke-width="1.3"/>
<path d="M467.6 603.2H489.8M478.7 603.2V623.2" stroke="#222" stroke-width="1.2" fill="none"/>
<rect x="457.66" y="623.2" width="42.30" height="100.1" fill="#000"/>
<path d="M220.67 292.16L799.04 844.86M216.18 296.85L794.55 849.56M211.69 301.55L790.06 854.26M207.19 306.25L785.57 858.96M202.70 310.95L781.08 863.66M198.21 315.65L776.59 868.36M193.72 320.35L772.10 873.06M189.23 325.05L767.61 877.76M184.74 329.75L763.11 882.46M180.25 334.45L758.62 887.15M175.76 339.15L754.13 891.85M171.27 343.85L749.64 896.55M166.78 348.55L745.15 901.25M162.29 353.25L740.66 905.95M157.80 357.95L736.17 910.65M153.31 362.64L731.68 915.35M148.81 367.34L727.19 920.05M144.32 372.04L722.70 924.75M139.83 376.74L718.21 929.45M135.34 381.44L713.72 934.15M130.85 386.14L709.23 938.85M126.36 390.84L704.73 943.55M121.87 395.54L700.24 948.25M117.38 400.24L695.75 952.94M112.89 404.94L691.26 957.64M108.40 409.64L686.77 962.34M103.91 414.34L682.28 967.04M99.42 419.04L677.79 971.74M94.93 423.74L673.30 976.44M90.44 428.43L668.81 981.14M85.94 433.13L664.32 985.84M81.45 437.83L659.83 990.54M76.96 442.53L655.34 995.24M72.47 447.23L650.85 999.94M67.98 451.93L646.36 1004.64M63.49 456.63L641.86 1009.34M59.00 461.33L637.37 1014.04M54.51 466.03L632.88 1018.73M50.02 470.73L628.39 1023.43M45.53 475.43L623.90 1028.13M41.04 480.13L619.41 1032.83M36.55 484.83L614.92 1037.53M32.06 489.53L610.43 1042.23M27.56 494.22L605.94 1046.93M23.07 498.92L601.45 1051.63M18.58 503.62L596.96 1056.33M14.09 508.32L592.47 1061.03M9.60 513.02L587.98 1065.73M5.11 517.72L583.49 1070.43M0.62 522.42L578.99 1075.13M-3.87 527.12L574.50 1079.83M-8.36 531.82L570.01 1084.52M-12.85 536.52L565.52 1089.22M-17.34 541.22L561.03 1093.92M-21.83 545.92L556.54 1098.62M-26.32 550.62L552.05 1103.32M-30.81 555.32L547.56 1108.02M-35.31 560.01L543.07 1112.72M-39.80 564.71L538.58 1117.42M-44.29 569.41L534.09 1122.12M-48.78 574.11L529.60 1126.82M-53.27 578.81L525.11 1131.52M-57.76 583.51L520.61 1136.22M-62.25 588.21L516.12 1140.92M-66.74 592.91L511.63 1145.62M-71.23 597.61L507.14 1150.31M-75.72 602.31L502.65 1155.01M-80.21 607.01L498.16 1159.71M-84.70 611.71L493.67 1164.41M-89.19 616.41L489.18 1169.11M-93.68 621.11L484.69 1173.81M-98.18 625.80L480.20 1178.51" stroke="#fff" stroke-width="1.6" fill="none" clip-path="url(#cC7)"/>
<rect x="457.66" y="623.2" width="42.30" height="100.1" fill="none" stroke="#1a1a1a" stroke-width="1.3"/>
<rect x="58.9" y="536.0" width="2" height="188.29999999999995" />
<rect x="53.8" y="722.3" width="453.7" height="2" />
<rect x="53.8" y="722.30" width="5" height="2"/>
<text x="52.4" y="727.70" text-anchor="end" font-size="13.6">0</text>
<rect x="53.8" y="675.72" width="5" height="2"/>
<text x="52.4" y="681.12" text-anchor="end" font-size="13.6">2</text>
<rect x="53.8" y="629.15" width="5" height="2"/>
<text x="52.4" y="634.55" text-anchor="end" font-size="13.6">4</text>
<rect x="53.8" y="582.58" width="5" height="2"/>
<text x="52.4" y="587.98" text-anchor="end" font-size="13.6">6</text>
<rect x="53.8" y="536.00" width="5" height="2"/>
<text x="52.4" y="541.40" text-anchor="end" font-size="13.6">8</text>
<rect x="86.20" y="723.3" width="1.9" height="5.8"/>
<text x="87.6" y="745.6" text-anchor="middle" font-size="13.8">vehicle</text>
<rect x="142.13" y="723.3" width="1.9" height="5.8"/>
<text x="143.6" y="745.6" text-anchor="middle" font-size="13.8">HU</text>
<rect x="198.06" y="723.3" width="1.9" height="5.8"/>
<text x="199.5" y="745.6" text-anchor="middle" font-size="13.8">vehicle</text>
<rect x="253.99" y="723.3" width="1.9" height="5.8"/>
<text x="255.9" y="745.6" text-anchor="middle" font-size="13.8">HU</text>
<rect x="309.92" y="723.3" width="1.9" height="5.8"/>
<text x="312.6" y="745.6" text-anchor="middle" font-size="13.8">vehicle</text>
<rect x="365.85" y="723.3" width="1.9" height="5.8"/>
<text x="367.8" y="745.6" text-anchor="middle" font-size="13.8">HU</text>
<rect x="421.78" y="723.3" width="1.9" height="5.8"/>
<text x="425.0" y="745.6" text-anchor="middle" font-size="13.8">vehicle</text>
<rect x="477.71" y="723.3" width="1.9" height="5.8"/>
<text x="480.3" y="745.6" text-anchor="middle" font-size="13.8">HU</text>
<line x1="179.0" y1="749.4" x2="274.3" y2="749.4" stroke="#000" stroke-width="2.1" stroke-linecap="round"/>
<text x="227.1" y="764.9" text-anchor="middle" font-size="13.6">L-NAME</text>
<line x1="290.8" y1="749.4" x2="386.1" y2="749.4" stroke="#000" stroke-width="2.1" stroke-linecap="round"/>
<text x="339.0" y="764.9" text-anchor="middle" font-size="13.6">PTIO</text>
<line x1="402.7" y1="749.4" x2="498.0" y2="749.4" stroke="#000" stroke-width="2.1" stroke-linecap="round"/>
<text x="450.8" y="764.9" text-anchor="middle" font-size="13.6">ODQ</text>
<text x="143.1" y="643" text-anchor="middle" font-size="14.5" font-weight="bold" letter-spacing="0" style="stroke-width:0.2px">*</text>
<text x="254.9" y="659.5" text-anchor="middle" font-size="14.5" font-weight="bold" letter-spacing="0" style="stroke-width:0.2px">*</text>
<text x="422.7" y="567" text-anchor="middle" font-size="13" font-weight="bold" letter-spacing="0" style="stroke-width:0.35px">##</text>
</svg></body></html>
